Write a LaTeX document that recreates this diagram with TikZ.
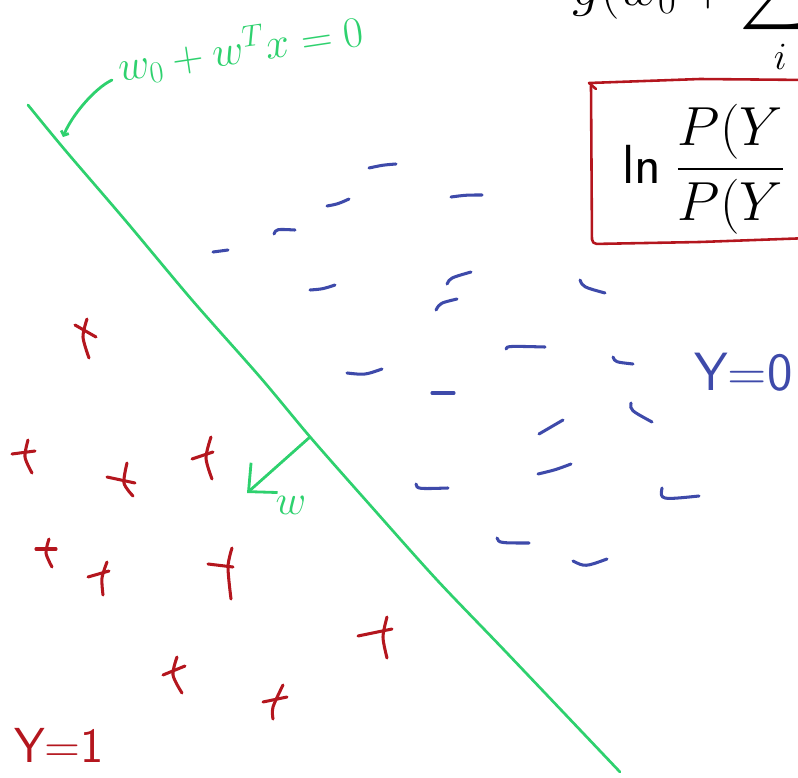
\documentclass[tikz,border=0pt]{standalone}
\usepackage{fix-cm}
\usepackage{amsmath}
\usepackage{amssymb}
\usetikzlibrary{arrows.meta}
\definecolor{inkgreen}{RGB}{46,209,110}
\definecolor{inkblue}{RGB}{62,74,170}
\definecolor{inkred}{RGB}{180,22,30}

\begin{document}
\begin{tikzpicture}[x=0.03cm, y=-0.03cm,
		pen/.style={line width=2.4pt, line cap=round, line join=round},
		boundary/.style={pen, inkgreen, line width=2.3pt},
		minus/.style={pen, inkblue, line width=2.6pt},
		plus/.style={pen, inkred, line width=2.6pt},
		boxpen/.style={pen, inkred, line width=2.2pt},
		printed/.style={anchor=base west, inner sep=0pt, font=\fontsize{47}{54}\selectfont},
		hand/.style={inner sep=0pt, font=\sffamily\fontsize{46}{54}\selectfont}]

		\useasboundingbox (0,0) rectangle (798,778);
		\clip (0,0) rectangle (798,778);

		% printed formulas, cut by the page edge
		\node[printed] (eqTop) at (572,5) {$\displaystyle g(w_0+\sum_i$};
		\node[printed] (eqLogit) at (622,183) {$\textsf{ln}\;\dfrac{P(Y}{P(Y}$};

		% red box round the log odds
		\draw[boxpen] (596,89) -- (589,83) -- (700,79) -- (810,80);
		\draw[boxpen, rounded corners=4pt] (591,86) -- (592,244) -- (700,242) -- (810,238);

		% decision boundary
		\draw[boundary] plot[smooth] coordinates {(28,105) (65,150) (125,220) (192,300) (260,377) (311,438) (370,505) (437,580) (506,652) (620,772)};

		% label of the boundary
		\node[inner sep=0pt, text=inkgreen, rotate=8.5, anchor=base west, font=\fontsize{37}{44}\selectfont] (lblBoundary) at (120,82) {$w_0+w^Tx=0$};
		\coordinate (bndTail) at (112,80);
		\coordinate (bndHead) at (63,137);
		\draw[pen, inkgreen, -{Straight Barb[length=3pt,width=7pt]}] (bndTail) .. controls (95,88) and (72,115) .. (bndHead);

		% normal vector w
		\coordinate (wFoot) at (310,437);
		\coordinate (wHead) at (247,493);
		\draw[pen, inkgreen, -{Straight Barb[length=18pt,width=34pt]}] (wFoot) -- (wHead);
		\node[inner sep=0pt, text=inkgreen, anchor=base, font=\fontsize{36}{42}\selectfont] (lblW) at (291,514) {$w$};

		% class labels
		\node[hand, text=inkblue, anchor=base west] (lblYzero) at (694,390) {Y=0};
		\node[hand, text=inkred, anchor=base west, font=\sffamily\fontsize{42}{50}\selectfont] (lblYone) at (14,762) {Y=1};

		% class 0 points
		\foreach \ax/\ay/\bx/\by/\cx/\cy in {
			369/168/383/165/396/164, 451/197/466/195/482/195, 327/206/338/204/349/199,
			274/234/276/229/295/230, 213/252/221/251/228/250, 310/290/323/289/335/285,
			447/284/450/278/471/272, 436/310/440/303/457/299, 580/280/583/287/605/293,
			506/349/507/346/545/347, 613/357/615/362/633/364, 347/373/365/375/382/369,
			432/393/443/393/454/393, 631/403/630/410/652/422, 539/434/551/427/563/420,
			538/474/555/470/571/464, 416/484/417/489/448/488, 662/488/660/500/699/496,
			497/538/499/543/529/543, 573/561/585/567/607/559}
			\draw[minus] (\ax,\ay) .. controls (\bx,\by) .. (\cx,\cy);

		% class 1 points
		\foreach \hx/\hy/\kx/\ky/\ux/\uy/\mx/\my/\dx/\dy in {
			75/325/96/337/87/319/83/337/89/358, 12/454/35/451/28/440/25/457/32/473,
			107/477/135/483/127/463/124/483/133/496, 192/459/213/452/211/437/206/458/212/479,
			36/549/56/549/49/539/46/553/52/567, 88/577/109/571/107/562/102/578/103/595,
			208/564/233/567/232/548/228/567/231/599, 163/675/185/666/177/657/173/675/182/693,
			263/702/287/697/283/685/273/707/273/719, 358/636/392/629/387/617/383/637/387/658}{
			\draw[plus] (\hx,\hy) -- (\kx,\ky);
			\draw[plus] plot[smooth] coordinates {(\ux,\uy) (\mx,\my) (\dx,\dy)};
		}

\end{tikzpicture}
\end{document}
